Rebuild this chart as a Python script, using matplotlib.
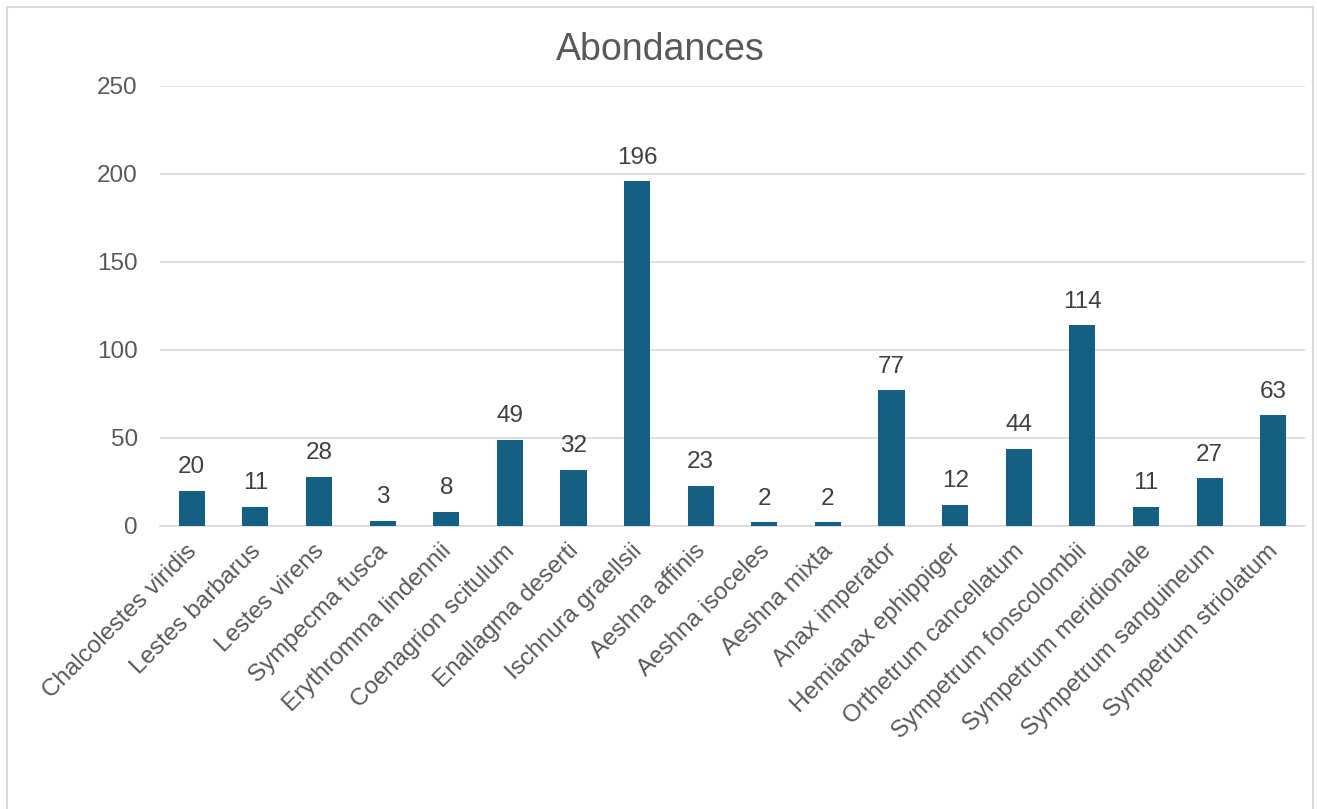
import matplotlib.pyplot as plt
import matplotlib.transforms as mtransforms
from matplotlib.patches import Rectangle

especes = ['Chalcolestes viridis', 'Lestes barbarus', 'Lestes virens', 'Sympecma fusca',
           'Erythromma lindennii', 'Coenagrion scitulum', 'Enallagma deserti',
           'Ischnura graellsii', 'Aeshna affinis', 'Aeshna isoceles', 'Aeshna mixta',
           'Anax imperator', 'Hemianax ephippiger', 'Orthetrum cancellatum',
           'Sympetrum fonscolombii', 'Sympetrum meridionale', 'Sympetrum sanguineum',
           'Sympetrum striolatum']
abondances = [20, 11, 28, 3, 8, 49, 32, 196, 23, 2, 2, 77, 12, 44, 114, 11, 27, 63]
graduations = [0, 50, 100, 150, 200, 250]

plt.rcParams['font.family'] = ['Liberation Sans', 'DejaVu Sans']

fig = plt.figure(figsize=(13.17, 8.09), dpi=100)
# cadre du graphique
fig.patches.append(Rectangle((7 / 1317, -0.01), 1306 / 1317, 1 - 7 / 809 + 0.01,
                             transform=fig.transFigure, fill=False,
                             edgecolor='#d9d9d9', linewidth=1.5))

ax = fig.add_axes([160 / 1317, 1 - 526 / 809, 1145 / 1317, 440 / 809])
x = range(len(especes))
barres = ax.bar(x, abondances, width=0.41, color='#156082', zorder=3)
for b, v in zip(barres, abondances):
    ax.annotate(str(v), (b.get_x() + b.get_width() / 2, v), xytext=(0, 9),
                textcoords='offset points', ha='center', va='bottom',
                fontsize=17.5, color='#404040')

ax.set_xlim(-0.5, len(especes) - 0.5)
ax.set_ylim(0, 250)
ax.set_yticks(graduations)
ax.yaxis.grid(True, color='#d9d9d9', linewidth=1.2, zorder=0)
ax.set_xticks(list(x))
ax.set_xticklabels(especes, rotation=45, ha='right', rotation_mode='anchor')
ax.tick_params(axis='both', length=0, labelsize=17.5, labelcolor='#595959')
ax.tick_params(axis='y', pad=16)
ax.tick_params(axis='x', pad=10)
decalage = mtransforms.ScaledTranslation(-6 / 100, 0, fig.dpi_scale_trans)
for lab in ax.get_xticklabels():
    lab.set_transform(lab.get_transform() + decalage)
for s in ['top', 'right', 'left']:
    ax.spines[s].set_visible(False)
ax.spines['bottom'].set_color('#d9d9d9')
ax.spines['bottom'].set_linewidth(1.2)

fig.text(660 / 1317, 1 - 50 / 809, 'Abondances', ha='center', va='center',
         fontsize=27, color='#595959')

fig.savefig('out.png', dpi=100)
